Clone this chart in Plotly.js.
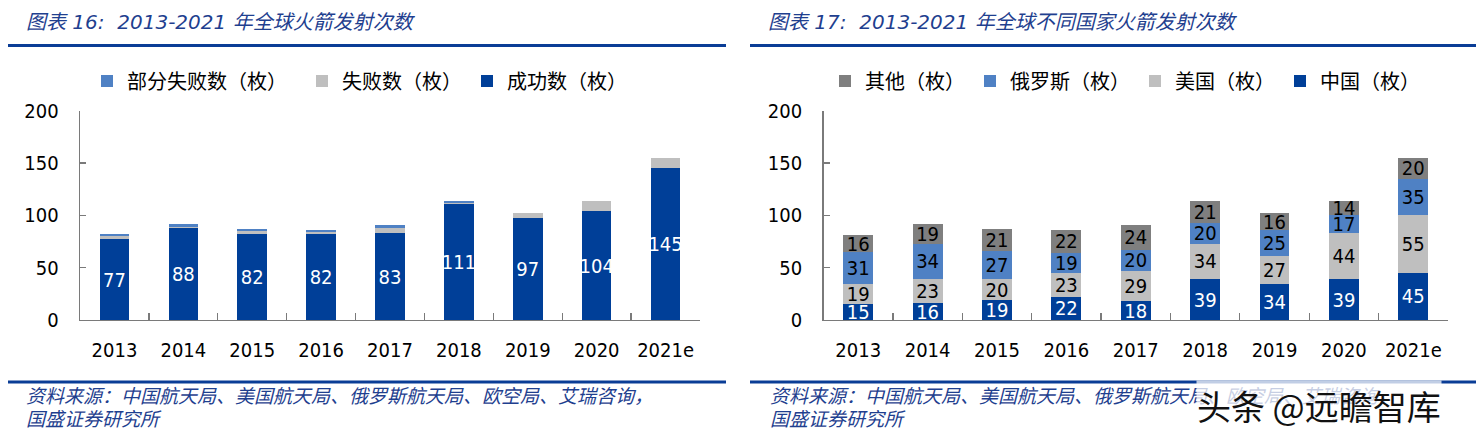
<!DOCTYPE html>
<html>
<head>
<meta charset="utf-8">
<script src="https://cdn.plot.ly/plotly-3.0.1.min.js"></script>
<style>
html,body{margin:0;padding:0;background:#fff;}
#chart{width:1476px;height:438px;}
</style>
</head>
<body>
<div id="chart"></div>
<script>
// ---- data ----
const years = ['2013','2014','2015','2016','2017','2018','2019','2020','2021e'];
// chart 16: global launches by outcome
const success = [77, 88, 82, 82, 83, 111, 97, 104, 145];
const failed  = [3, 1, 3, 2, 5, 1, 5, 10, 10];
const partial = [2, 3, 2, 2, 3, 2, 0, 0, 0];
// chart 17: launches by country
const china  = [15, 16, 19, 22, 18, 39, 34, 39, 45];
const usa    = [19, 23, 20, 23, 29, 34, 27, 44, 55];
const russia = [31, 34, 27, 19, 20, 20, 25, 17, 35];
const other  = [16, 19, 21, 22, 24, 21, 16, 14, 20];

const names16 = ['成功数（枚）', '失败数（枚）', '部分失败数（枚）\u3000'];
const names17 = ['中国（枚）', '美国（枚）', '俄罗斯（枚）', '其他（枚）'];
const title16 = '图表 16:  2013-2021 年全球火箭发射次数';
const title17 = '图表 17:  2013-2021 年全球不同国家火箭发射次数';
const sourceLine1 = '资料来源：中国航天局、美国航天局、俄罗斯航天局、欧空局、艾瑞咨询，';
const sourceLine2 = '国盛证券研究所';
const watermark = '头条 @远瞻智库';

// ---- style ----
const W = 1476, H = 438;
const px = v => v / W;
const py = v => (H - v) / H;
const C_DARK = '#003F98', C_MID = '#4F81C4', C_LIGHT = '#BFBFBF', C_GRAY = '#7F7F7F';
const NUM_FONT = '"DejaVu Sans Condensed", "Liberation Sans Narrow", "DejaVu Sans", sans-serif';
const CJK_FONT = '"Noto Sans CJK SC", "Noto Sans", sans-serif';
const BLUE_TEXT = '#1F3F8F';

function bar(x, y, name, color, xa, ya, legend, showText, textColor) {
  return {
    type: 'bar', x: x, y: y, name: name, xaxis: xa, yaxis: ya, legend: legend,
    marker: {color: color},
    text: showText ? y.map(v => v > 0 ? String(v) : '') : undefined,
    textposition: showText ? 'inside' : 'none',
    insidetextanchor: 'middle',
    constraintext: 'none',
    textangle: 0,
    insidetextfont: {family: NUM_FONT, size: 20, color: textColor},
    hoverinfo: 'x+y+name'
  };
}

const data = [
  bar(years, success, names16[0], C_DARK, 'x', 'y', 'legend', true, '#FFFFFF'),
  bar(years, failed, names16[1], C_LIGHT, 'x', 'y', 'legend', false),
  bar(years, partial, names16[2], C_MID, 'x', 'y', 'legend', false),
  bar(years, china, names17[0], C_DARK, 'x2', 'y2', 'legend2', true, '#FFFFFF'),
  bar(years, usa, names17[1], C_LIGHT, 'x2', 'y2', 'legend2', true, '#000000'),
  bar(years, russia, names17[2], C_MID, 'x2', 'y2', 'legend2', true, '#000000'),
  bar(years, other, names17[3], C_GRAY, 'x2', 'y2', 'legend2', true, '#000000')
];

const xCommon = {
  type: 'category', showline: true, linecolor: '#7A7A7A', linewidth: 1.3,
  ticks: 'inside', tickson: 'boundaries', ticklen: 7, tickcolor: '#7A7A7A', tickwidth: 1.3,
  showgrid: false, zeroline: false, fixedrange: true,
  tickfont: {family: NUM_FONT, size: 20, color: '#000'},
  ticklabelstandoff: 12
};
const yCommon = {
  range: [0, 200], tickvals: [0, 50, 100, 150, 200],
  showline: true, linecolor: '#7A7A7A', linewidth: 1.3,
  ticks: 'inside', ticklen: 6, tickcolor: '#7A7A7A', tickwidth: 1.3,
  showgrid: false, zeroline: false, fixedrange: true,
  tickfont: {family: NUM_FONT, size: 20, color: '#000'},
  ticklabelstandoff: 16
};

const yDom = [py(320), py(110.5)];
const legendCommon = {
  orientation: 'h', xanchor: 'left', yanchor: 'middle', y: py(81),
  font: {family: CJK_FONT, size: 20, color: '#000'},
  traceorder: 'reversed', bgcolor: 'rgba(0,0,0,0)', borderwidth: 0
};

function rule(x0, x1, y) {
  return {type: 'line', xref: 'paper', yref: 'paper', x0: px(x0), x1: px(x1), y0: py(y), y1: py(y),
          line: {color: '#0A3D96', width: 3}};
}
function txt(text, x, y, size, extra) {
  return Object.assign({
    text: text, xref: 'paper', yref: 'paper', x: px(x), y: py(y),
    xanchor: 'left', yanchor: 'middle', showarrow: false,
    font: {family: '"DejaVu Sans", ' + CJK_FONT, size: size, color: BLUE_TEXT}
  }, extra || {});
}

const layout = {
  width: W, height: H,
  margin: {l: 0, r: 0, t: 0, b: 0},
  paper_bgcolor: '#fff', plot_bgcolor: '#fff',
  barmode: 'stack', bargap: 0.57,
  showlegend: true,
  xaxis: Object.assign({}, xCommon, {domain: [px(80), px(700)], anchor: 'y'}),
  yaxis: Object.assign({}, yCommon, {domain: yDom, anchor: 'x'}),
  xaxis2: Object.assign({}, xCommon, {domain: [px(823.5), px(1448)], anchor: 'y2'}),
  yaxis2: Object.assign({}, yCommon, {domain: yDom, anchor: 'x2'}),
  legend: Object.assign({}, legendCommon, {x: px(87)}),
  legend2: Object.assign({}, legendCommon, {x: px(825)}),
  shapes: [
    rule(8, 726, 45.5), rule(750, 1476, 45.5),
    rule(8, 726, 382), rule(750, 1476, 382)
  ],
  annotations: [
    txt('<i>' + title16 + '</i>', 24, 22, 20),
    txt('<i>' + title17 + '</i>', 766, 22, 20),
    txt('<i>' + sourceLine1 + '</i>', 24, 396, 19),
    txt('<i>' + sourceLine2 + '</i>', 24, 419, 19),
    txt('<i>' + sourceLine1 + '</i>', 768, 396, 19),
    txt('<i>' + sourceLine2 + '</i>', 768, 419, 19),
    txt(watermark, 1196, 405, 34, {
      font: {family: CJK_FONT, size: 34, color: '#111'},
      bgcolor: 'rgba(255,255,255,0.75)', borderpad: 0
    })
  ]
};

Plotly.newPlot('chart', data, layout, {staticPlot: true, displayModeBar: false});
</script>
</body>
</html>
